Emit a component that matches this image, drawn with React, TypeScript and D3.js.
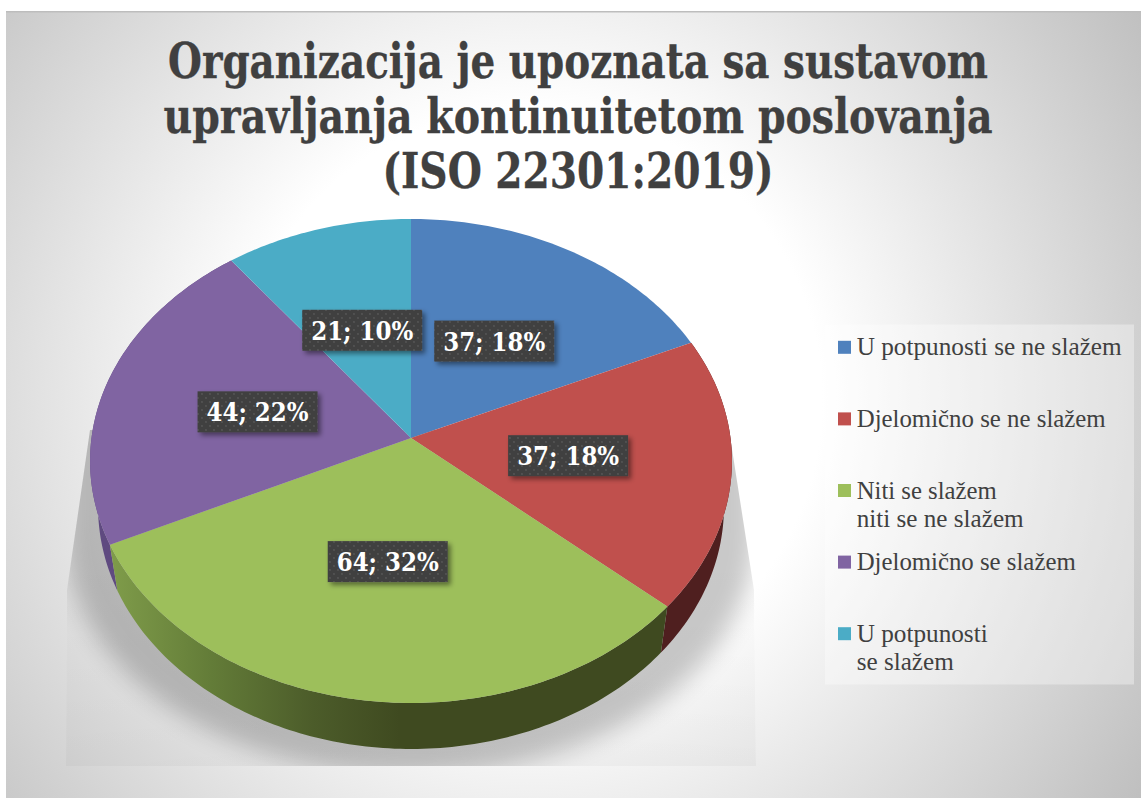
import React from "react";
import * as d3 from "d3";

const categories = ["U potpunosti se ne slažem", "Djelomično se ne slažem", "Niti se slažem niti se ne slažem", "Djelomično se slažem", "U potpunosti se slažem"];
const legendLines = [["U potpunosti se ne slažem"], ["Djelomično se ne slažem"], ["Niti se slažem", "niti se ne slažem"], ["Djelomično se slažem"], ["U potpunosti", "se slažem"]];
const legendWidths = [[265], [249], [140, 167], [219], [131, 97]];
const values = [37, 37, 64, 44, 21];
const percents = [18, 18, 32, 22, 10];
const topColors = ["#4f81bd", "#c0504d", "#9dbf5b", "#8064a2", "#4bacc6"];
const sideColors = ["#2a4565", "#4f1f1f", "url(#greenSide)", "#5f4a80", "#28606f"];
const titleLines = ["Organizacija je upoznata sa sustavom", "upravljanja kontinuitetom poslovanja", "(ISO 22301:2019)"];
const titleWidths = [820, 829, 391];

const W = 1141, H = 798;
const FONT = "'DejaVu Serif', serif";
const LEGEND_FONT = "'Liberation Serif', serif";
const cx = 411, cy = 438;
const a = 319.5, b = 239.8, k = 0.095;
const depth = 46, rimScale = 0.975;
const labelNudge = [[0, 0], [-2, 0], [0, -1], [0, 2], [0, 1]];

const project = (theta: number, r = 1) => {
  const u = Math.sin(theta) * r, v = -Math.cos(theta) * r;
  const w = 1 - k * v;
  return { x: (a * u) / w, y: (b * v) / w };
};
const topPt = (t: number, r = 1): [number, number] => {
  const p = project(t, r);
  return [cx + p.x, cy + p.y];
};
const rimPt = (t: number): [number, number] => {
  const p = project(t);
  return [cx + p.x * rimScale, cy + p.y + depth];
};
const angles = (s: number, e: number) => {
  const n = Math.max(8, Math.ceil((e - s) * 60));
  return d3.range(n + 1).map((i) => s + ((e - s) * i) / n);
};
const line = d3.line<[number, number]>();

const arcs = d3.pie<number>().sort(null).value((d) => d)(values);
const legendY = d3.scaleLinear().domain([0, 4]).range([347.3, 633.7]);

const clipPoly: [number, number][] = [[90, 430], [67, 590], [66, 766], [756, 766], [754, 590], [729, 430]];

export default function App() {
  return (
    <svg width={W} height={H} viewBox={`0 0 ${W} ${H}`} style={{ position: "absolute", left: 0, top: 0, display: "block" }}>
      <defs>
        <radialGradient id="bg" gradientUnits="userSpaceOnUse" cx={530} cy={400} r={730}>
          <stop offset="0.4" stopColor="#ffffff" />
          <stop offset="1" stopColor="#bfbfbf" />
        </radialGradient>
        <linearGradient id="base" gradientUnits="userSpaceOnUse" x1={0} x2={0} y1={560} y2={766}>
          <stop offset="0" stopColor="#000" stopOpacity="0" />
          <stop offset="1" stopColor="#000" stopOpacity="0.03" />
        </linearGradient>
        <linearGradient id="greenSide" gradientUnits="userSpaceOnUse" x1={110} x2={400} y1={0} y2={0}>
          <stop offset="0" stopColor="#7f9c4a" />
          <stop offset="0.35" stopColor="#637c38" />
          <stop offset="0.7" stopColor="#4c5c2a" />
          <stop offset="1" stopColor="#3f4a20" />
        </linearGradient>
        <filter id="blur" filterUnits="userSpaceOnUse" x={0} y={350} width={830} height={470}>
          <feGaussianBlur stdDeviation="12" />
        </filter>
        <filter id="labelShadow" x="-20%" y="-30%" width="140%" height="170%">
          <feDropShadow dx="3" dy="3" stdDeviation="2.5" floodColor="#000" floodOpacity="0.45" />
        </filter>
        <clipPath id="shadowClip">
          <path d={line(clipPoly)! + "Z"} />
        </clipPath>
        <pattern id="dots" width="8" height="8" patternUnits="userSpaceOnUse">
          <rect width="8" height="8" fill="#404040" />
          <circle cx="2" cy="2" r="0.9" fill="#585858" />
          <circle cx="6" cy="6" r="0.9" fill="#585858" />
        </pattern>
      </defs>

      <rect x={6} y={11} width={W - 6} height={H - 11} fill="url(#bg)" />
      <rect x={6} y={11} width={W - 6} height={1.5} fill="#bdbdbd" />

      <g clipPath="url(#shadowClip)">
        <path d={line(clipPoly)! + "Z"} fill="url(#base)" />
        <g filter="url(#blur)" opacity={0.21}>
          <ellipse cx={410} cy={535} rx={345} ry={240} fill="#000" />
          <rect x={65} y={400} width={690} height={135} fill="#000" />
        </g>
      </g>

      {titleLines.map((t, i) => (
        <text key={t} x={578} y={78 + i * 55} textAnchor="middle" fontFamily={FONT} fontWeight="bold" fontSize={49} fill="#404040"
          stroke="#404040" strokeWidth={0.3}
          style={{ fontStretch: "condensed" }}
          textLength={titleWidths[i]} lengthAdjust="spacingAndGlyphs">{t}</text>
      ))}

      {[3, 1, 2].map((i) => {
        const ts = angles(arcs[i].startAngle, arcs[i].endAngle);
        const pts = [...ts.map((t) => topPt(t)), ...ts.slice().reverse().map((t) => rimPt(t))];
        return <path key={categories[i]} d={line(pts)! + "Z"} fill={sideColors[i]} />;
      })}

      {arcs.map((d, i) => {
        const pts = [[cx, cy] as [number, number], ...angles(d.startAngle, d.endAngle).map((t) => topPt(t))];
        return <path key={categories[i]} d={line(pts)! + "Z"} fill={topColors[i]} />;
      })}

      {arcs.map((d, i) => {
        const [lx, ly] = topPt((d.startAngle + d.endAngle) / 2, 0.5);
        const x = lx + labelNudge[i][0], y = ly + labelNudge[i][1];
        return (
          <g key={categories[i]}>
            <rect x={x - 60} y={y - 20.5} width={120} height={41} fill="url(#dots)" filter="url(#labelShadow)" />
            <text x={x} y={y + 9.5} textAnchor="middle" fontFamily={FONT} fontWeight="bold" fontSize={26} fill="#fff"
              style={{ fontStretch: "condensed" }}
              textLength={102} lengthAdjust="spacingAndGlyphs">{`${values[i]}; ${percents[i]}%`}</text>
          </g>
        );
      })}

      <rect x={825} y={324.5} width={309} height={360} fill="#fff" opacity={0.35} />
      {categories.map((c, i) => {
        const y = legendY(i);
        return (
          <g key={c}>
            <rect x={838} y={y - 6.5} width={13} height={13} fill={topColors[i]} />
            {legendLines[i].map((t, j) => (
              <text key={t} x={856.7} y={y + 8 + j * 28} fontFamily={LEGEND_FONT} fontSize={25.5} fill="#404040"
                textLength={legendWidths[i][j]} lengthAdjust="spacingAndGlyphs">{t}</text>
            ))}
          </g>
        );
      })}
    </svg>
  );
}
